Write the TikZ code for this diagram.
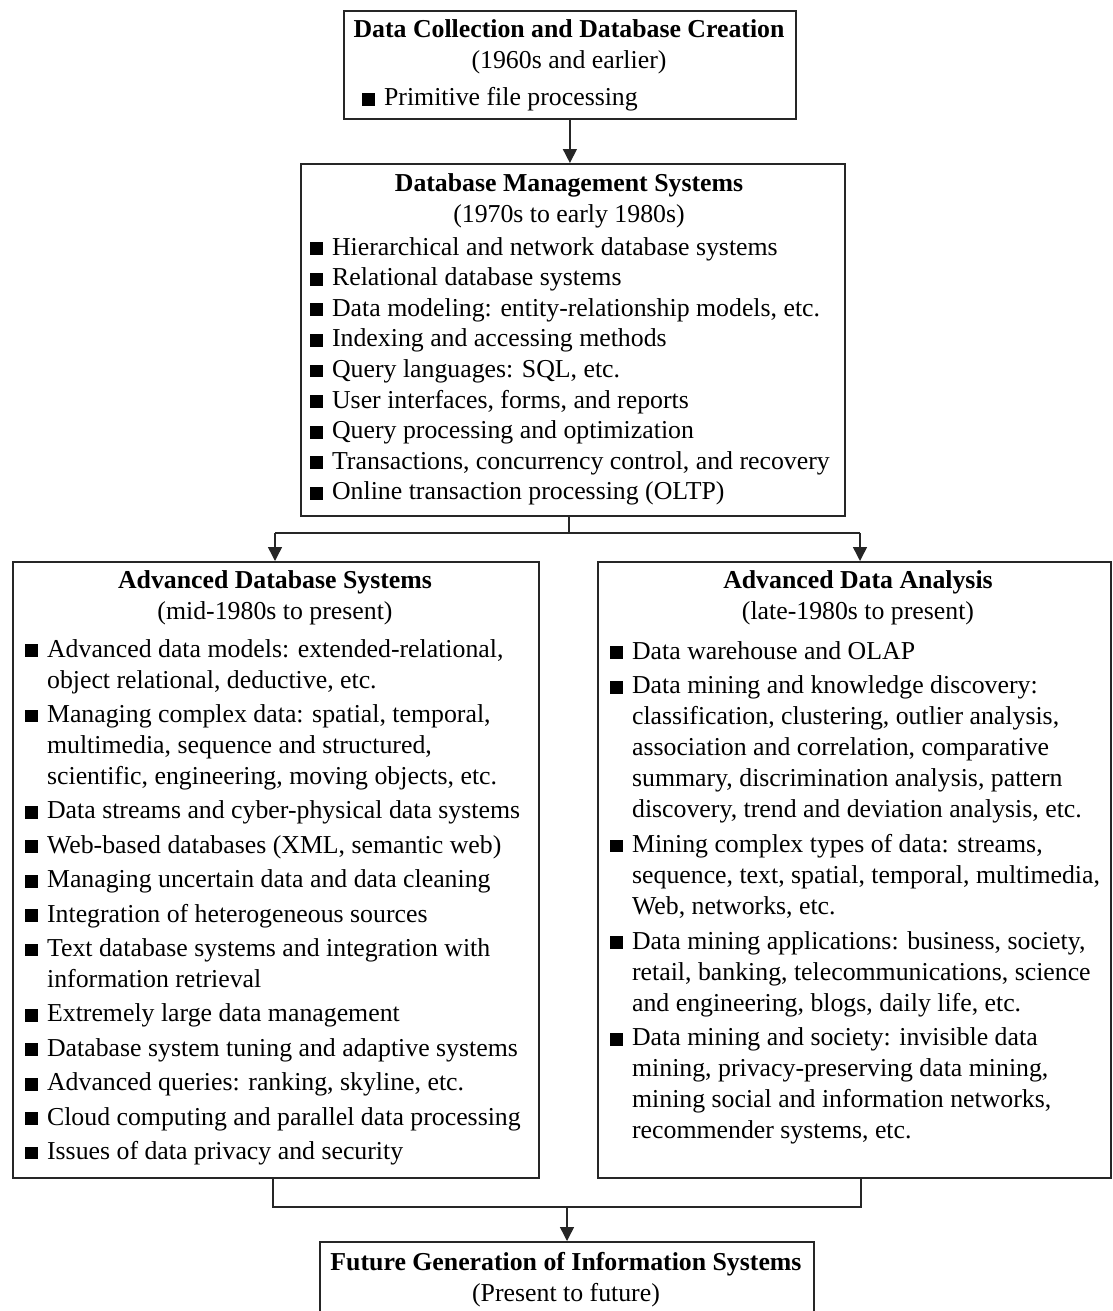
\documentclass[tikz,border=0pt]{standalone}
\usepackage{fontspec}
\setmainfont{Liberation Serif}
\usetikzlibrary{arrows.meta}
\newcommand{\sq}{\rule{0.5em}{0.5em}\hspace{9pt}}
\begin{document}
\begin{tikzpicture}[x=1pt,y=-1pt,
	box/.style={draw=black!85,line width=1.8pt,anchor=north west,inner sep=0pt},
	head/.style={anchor=base,inner sep=0pt,font=\fontsize{25.8}{31}\selectfont},
	list/.style={anchor=base west,inner sep=0pt,font=\fontsize{25.8}{31}\selectfont},
	link/.style={draw=black!85,line width=1.5pt},
	arr/.style={link,-{Triangle[width=14pt,length=14pt]}}]
				\clip (0,0) rectangle (1113,1311);
				
				\node[box,minimum width=452pt,minimum height=108pt] (dcdc) at (343,10) {};
				\node[box,minimum width=544pt,minimum height=352pt] (dbms) at (300,163) {};
				\node[box,minimum width=526pt,minimum height=616pt] (adbs) at (12,561) {};
				\node[box,minimum width=513pt,minimum height=616pt] (ada) at (597,561) {};
				\node[box,minimum width=494pt,minimum height=100pt] (fgis) at (319,1241) {};
				
				\node[head] (dcdc-h) at (569,38) {\begin{tabular}[t]{@{}c@{}}\textbf{Data Collection and Database Creation}\\(1960s and earlier)\end{tabular}};
				\node[list] (dcdc-l) at (362,106) {\sq Primitive file processing};
				
				\node[head] (dbms-h) at (569,191) {\begin{tabular}[t]{@{}c@{}}\textbf{Database Management Systems}\\(1970s to early 1980s)\end{tabular}};
				\node[list,font=\fontsize{25.8}{30.6}\selectfont] (dbms-l) at (310,255) {\begin{tabular}[t]{@{}l@{}}
					\sq Hierarchical and network database systems\\
					\sq Relational database systems\\
					\sq Data modeling: entity-relationship models, etc.\\
					\sq Indexing and accessing methods\\
					\sq Query languages: SQL, etc.\\
					\sq User interfaces, forms, and reports\\
					\sq Query processing and optimization\\
					\sq Transactions, concurrency control, and recovery\\
					\sq Online transaction processing (OLTP)
				\end{tabular}};
				
				\node[head] (adbs-h) at (275,588) {\begin{tabular}[t]{@{}c@{}}\textbf{Advanced Database Systems}\\(mid-1980s to present)\end{tabular}};
				\node[list] (adbs-l) at (25,657) {\begin{tabular}[t]{@{}l@{\hspace{9pt}}l@{}}
					\sq\hspace{-9pt} & Advanced data models: extended-relational,\\
					& object relational, deductive, etc.\\[3.4pt]
					\sq\hspace{-9pt} & Managing complex data: spatial, temporal,\\
					& multimedia, sequence and structured,\\
					& scientific, engineering, moving objects, etc.\\[3.4pt]
					\sq\hspace{-9pt} & Data streams and cyber-physical data systems\\[3.4pt]
					\sq\hspace{-9pt} & Web-based databases (XML, semantic web)\\[3.4pt]
					\sq\hspace{-9pt} & Managing uncertain data and data cleaning\\[3.4pt]
					\sq\hspace{-9pt} & Integration of heterogeneous sources\\[3.4pt]
					\sq\hspace{-9pt} & Text database systems and integration with\\
					& information retrieval\\[3.4pt]
					\sq\hspace{-9pt} & Extremely large data management\\[3.4pt]
					\sq\hspace{-9pt} & Database system tuning and adaptive systems\\[3.4pt]
					\sq\hspace{-9pt} & Advanced queries: ranking, skyline, etc.\\[3.4pt]
					\sq\hspace{-9pt} & Cloud computing and parallel data processing\\[3.4pt]
					\sq\hspace{-9pt} & Issues of data privacy and security
				\end{tabular}};
				
				\node[head] (ada-h) at (858,588) {\begin{tabular}[t]{@{}c@{}}\textbf{Advanced Data Analysis}\\(late-1980s to present)\end{tabular}};
				\node[list] (ada-l) at (610,659) {\begin{tabular}[t]{@{}l@{\hspace{9pt}}l@{}}
					\sq\hspace{-9pt} & Data warehouse and OLAP\\[3.7pt]
					\sq\hspace{-9pt} & Data mining and knowledge discovery:\\
					& classification, clustering, outlier analysis,\\
					& association and correlation, comparative\\
					& summary, discrimination analysis, pattern\\
					& discovery, trend and deviation analysis, etc.\\[3.7pt]
					\sq\hspace{-9pt} & Mining complex types of data: streams,\\
					& sequence, text, spatial, temporal, multimedia,\\
					& Web, networks, etc.\\[3.7pt]
					\sq\hspace{-9pt} & Data mining applications: business, society,\\
					& retail, banking, telecommunications, science\\
					& and engineering, blogs, daily life, etc.\\[3.7pt]
					\sq\hspace{-9pt} & Data mining and society: invisible data\\
					& mining, privacy-preserving data mining,\\
					& mining social and information networks,\\
					& recommender systems, etc.
				\end{tabular}};
				
				\node[head] (fgis-h) at (566,1270) {\begin{tabular}[t]{@{}c@{}}\textbf{Future Generation of Information Systems}\\(Present to future)\end{tabular}};
				
				\coordinate (fork) at (569,533);
				\coordinate (inL) at (275,533);
				\coordinate (inR) at (860,533);
				\coordinate (outL) at (273,1207);
				\coordinate (outR) at (861,1207);
				\coordinate (join) at (567,1207);
				
				\draw[arr] (dcdc.south) -- (dcdc.south |- dbms.north);
				\draw[link] (fork |- dbms.south) -- (fork);
				\draw[link] (inL) -- (inR);
				\draw[arr] (inL) -- (inL |- adbs.north);
				\draw[arr] (inR) -- (inR |- ada.north);
				\draw[link] (outL |- adbs.south) -- (outL) -- (outR) -- (outR |- ada.south);
				\draw[arr] (join) -- (join |- fgis.north);
\end{tikzpicture}
\end{document}
